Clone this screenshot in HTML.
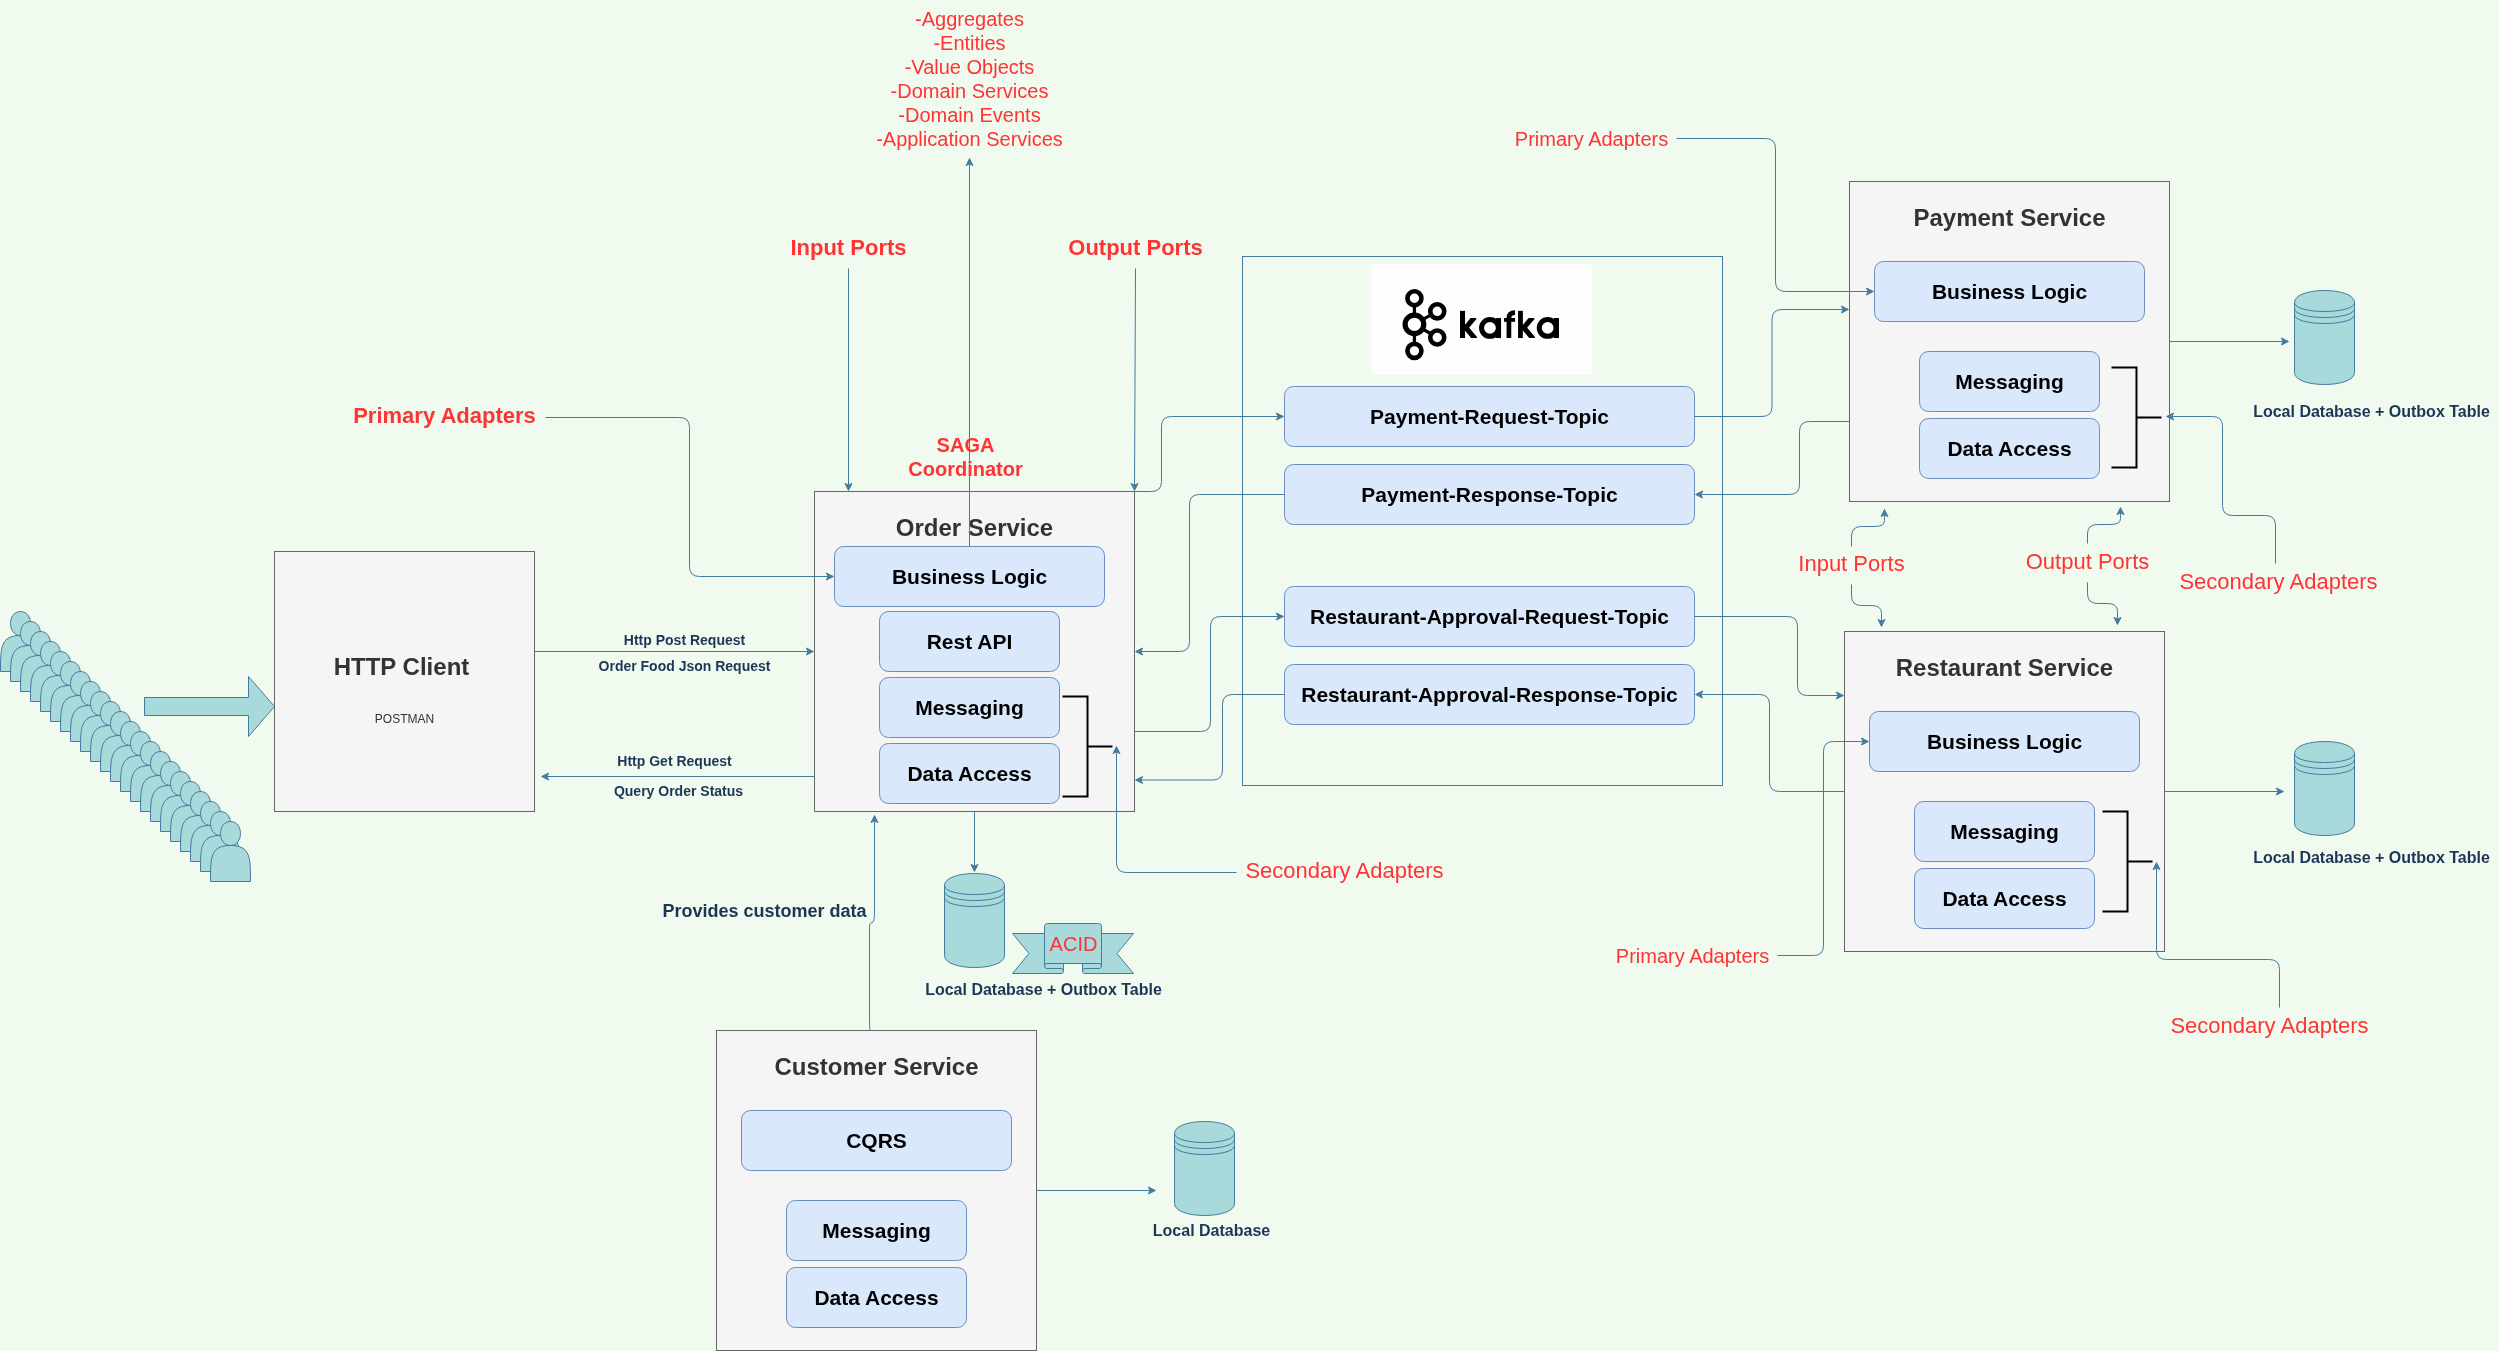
<!DOCTYPE html>
<html><head><meta charset="utf-8"><title>Architecture</title>
<style>
html,body{margin:0;padding:0;background:#F1FAEE;}
body{width:2499px;height:1351px;position:relative;overflow:hidden;font-family:"Liberation Sans",sans-serif;}
svg{position:absolute;left:0;top:0;}
#L{position:absolute;left:0;top:0;width:2499px;height:1351px;opacity:0.999;will-change:opacity;}
.t{position:absolute;transform:translate(-50%,-50%);white-space:nowrap;text-align:center;}
</style></head><body>
<svg width="2499" height="1351" viewBox="0 0 2499 1351">
<rect width="2499" height="1351" fill="#F1FAEE"/>
<g transform="translate(0.5,0.5)">
<path d="M 0 671 C 0 647.0 0 635.0 20.0 635.0 C 6.67 635.0 6.67 611 20.0 611 C 33.33 611 33.33 635.0 20.0 635.0 C 40 635.0 40 647.0 40 671 Z" fill="#A8DADC" stroke="#457B9D" stroke-miterlimit="10"/>
<path d="M 10 681 C 10 657.0 10 645.0 30.0 645.0 C 16.67 645.0 16.67 621 30.0 621 C 43.33 621 43.33 645.0 30.0 645.0 C 50 645.0 50 657.0 50 681 Z" fill="#A8DADC" stroke="#457B9D" stroke-miterlimit="10"/>
<path d="M 20 691 C 20 667.0 20 655.0 40.0 655.0 C 26.67 655.0 26.67 631 40.0 631 C 53.33 631 53.33 655.0 40.0 655.0 C 60 655.0 60 667.0 60 691 Z" fill="#A8DADC" stroke="#457B9D" stroke-miterlimit="10"/>
<path d="M 30 701 C 30 677.0 30 665.0 50.0 665.0 C 36.67 665.0 36.67 641 50.0 641 C 63.33 641 63.33 665.0 50.0 665.0 C 70 665.0 70 677.0 70 701 Z" fill="#A8DADC" stroke="#457B9D" stroke-miterlimit="10"/>
<path d="M 40 711 C 40 687.0 40 675.0 60.0 675.0 C 46.67 675.0 46.67 651 60.0 651 C 73.33 651 73.33 675.0 60.0 675.0 C 80 675.0 80 687.0 80 711 Z" fill="#A8DADC" stroke="#457B9D" stroke-miterlimit="10"/>
<path d="M 50 721 C 50 697.0 50 685.0 70.0 685.0 C 56.67 685.0 56.67 661 70.0 661 C 83.33 661 83.33 685.0 70.0 685.0 C 90 685.0 90 697.0 90 721 Z" fill="#A8DADC" stroke="#457B9D" stroke-miterlimit="10"/>
<path d="M 60 731 C 60 707.0 60 695.0 80.0 695.0 C 66.67 695.0 66.67 671 80.0 671 C 93.33 671 93.33 695.0 80.0 695.0 C 100 695.0 100 707.0 100 731 Z" fill="#A8DADC" stroke="#457B9D" stroke-miterlimit="10"/>
<path d="M 70 741 C 70 717.0 70 705.0 90.0 705.0 C 76.67 705.0 76.67 681 90.0 681 C 103.33 681 103.33 705.0 90.0 705.0 C 110 705.0 110 717.0 110 741 Z" fill="#A8DADC" stroke="#457B9D" stroke-miterlimit="10"/>
<path d="M 80 751 C 80 727.0 80 715.0 100.0 715.0 C 86.67 715.0 86.67 691 100.0 691 C 113.33 691 113.33 715.0 100.0 715.0 C 120 715.0 120 727.0 120 751 Z" fill="#A8DADC" stroke="#457B9D" stroke-miterlimit="10"/>
<path d="M 90 761 C 90 737.0 90 725.0 110.0 725.0 C 96.67 725.0 96.67 701 110.0 701 C 123.33 701 123.33 725.0 110.0 725.0 C 130 725.0 130 737.0 130 761 Z" fill="#A8DADC" stroke="#457B9D" stroke-miterlimit="10"/>
<path d="M 100 771 C 100 747.0 100 735.0 120.0 735.0 C 106.67 735.0 106.67 711 120.0 711 C 133.33 711 133.33 735.0 120.0 735.0 C 140 735.0 140 747.0 140 771 Z" fill="#A8DADC" stroke="#457B9D" stroke-miterlimit="10"/>
<path d="M 110 781 C 110 757.0 110 745.0 130.0 745.0 C 116.67 745.0 116.67 721 130.0 721 C 143.33 721 143.33 745.0 130.0 745.0 C 150 745.0 150 757.0 150 781 Z" fill="#A8DADC" stroke="#457B9D" stroke-miterlimit="10"/>
<path d="M 120 791 C 120 767.0 120 755.0 140.0 755.0 C 126.67 755.0 126.67 731 140.0 731 C 153.33 731 153.33 755.0 140.0 755.0 C 160 755.0 160 767.0 160 791 Z" fill="#A8DADC" stroke="#457B9D" stroke-miterlimit="10"/>
<path d="M 130 801 C 130 777.0 130 765.0 150.0 765.0 C 136.67 765.0 136.67 741 150.0 741 C 163.33 741 163.33 765.0 150.0 765.0 C 170 765.0 170 777.0 170 801 Z" fill="#A8DADC" stroke="#457B9D" stroke-miterlimit="10"/>
<path d="M 140 811 C 140 787.0 140 775.0 160.0 775.0 C 146.67 775.0 146.67 751 160.0 751 C 173.33 751 173.33 775.0 160.0 775.0 C 180 775.0 180 787.0 180 811 Z" fill="#A8DADC" stroke="#457B9D" stroke-miterlimit="10"/>
<path d="M 150 821 C 150 797.0 150 785.0 170.0 785.0 C 156.67 785.0 156.67 761 170.0 761 C 183.33 761 183.33 785.0 170.0 785.0 C 190 785.0 190 797.0 190 821 Z" fill="#A8DADC" stroke="#457B9D" stroke-miterlimit="10"/>
<path d="M 160 831 C 160 807.0 160 795.0 180.0 795.0 C 166.67 795.0 166.67 771 180.0 771 C 193.33 771 193.33 795.0 180.0 795.0 C 200 795.0 200 807.0 200 831 Z" fill="#A8DADC" stroke="#457B9D" stroke-miterlimit="10"/>
<path d="M 170 841 C 170 817.0 170 805.0 190.0 805.0 C 176.67 805.0 176.67 781 190.0 781 C 203.33 781 203.33 805.0 190.0 805.0 C 210 805.0 210 817.0 210 841 Z" fill="#A8DADC" stroke="#457B9D" stroke-miterlimit="10"/>
<path d="M 180 851 C 180 827.0 180 815.0 200.0 815.0 C 186.67 815.0 186.67 791 200.0 791 C 213.33 791 213.33 815.0 200.0 815.0 C 220 815.0 220 827.0 220 851 Z" fill="#A8DADC" stroke="#457B9D" stroke-miterlimit="10"/>
<path d="M 190 861 C 190 837.0 190 825.0 210.0 825.0 C 196.67 825.0 196.67 801 210.0 801 C 223.33 801 223.33 825.0 210.0 825.0 C 230 825.0 230 837.0 230 861 Z" fill="#A8DADC" stroke="#457B9D" stroke-miterlimit="10"/>
<path d="M 200 871 C 200 847.0 200 835.0 220.0 835.0 C 206.67 835.0 206.67 811 220.0 811 C 233.33 811 233.33 835.0 220.0 835.0 C 240 835.0 240 847.0 240 871 Z" fill="#A8DADC" stroke="#457B9D" stroke-miterlimit="10"/>
<path d="M 210 881 C 210 857.0 210 845.0 230.0 845.0 C 216.67 845.0 216.67 821 230.0 821 C 243.33 821 243.33 845.0 230.0 845.0 C 250 845.0 250 857.0 250 881 Z" fill="#A8DADC" stroke="#457B9D" stroke-miterlimit="10"/>
<path d="M 144 697.0 L 248 697.0 L 248 676 L 274 706.0 L 248 736 L 248 715.0 L 144 715.0 Z" fill="#A8DADC" stroke="#457B9D" stroke-miterlimit="10"/>
<rect x="274" y="551" width="260" height="260" rx="0" ry="0" fill="#F5F5F5" stroke="#666666" stroke-width="1"/>
<rect x="814" y="491" width="320" height="320" rx="0" ry="0" fill="#F5F5F5" stroke="#666666" stroke-width="1"/>
<rect x="834" y="546" width="270" height="60" rx="9" ry="9" fill="#DAE8FC" stroke="#6C8EBF" stroke-width="1"/>
<rect x="879" y="611" width="180" height="60" rx="9" ry="9" fill="#DAE8FC" stroke="#6C8EBF" stroke-width="1"/>
<rect x="879" y="677" width="180" height="60" rx="9" ry="9" fill="#DAE8FC" stroke="#6C8EBF" stroke-width="1"/>
<rect x="879" y="743" width="180" height="60" rx="9" ry="9" fill="#DAE8FC" stroke="#6C8EBF" stroke-width="1"/>
<path d="M 1062 696 L 1087.0 696 L 1087.0 796 L 1062 796 M 1087.0 746.0 L 1112 746.0" fill="none" stroke="#000" stroke-width="2" stroke-miterlimit="10"/>
<rect x="1242" y="256" width="480" height="529" rx="0" ry="0" fill="none" stroke="#457B9D" stroke-width="1"/>
<rect x="1371" y="263.5" width="221" height="110.5" fill="#FEFEFE"/>
<rect x="1284" y="386" width="410" height="60" rx="9" ry="9" fill="#DAE8FC" stroke="#6C8EBF" stroke-width="1"/>
<rect x="1284" y="464" width="410" height="60" rx="9" ry="9" fill="#DAE8FC" stroke="#6C8EBF" stroke-width="1"/>
<rect x="1284" y="586" width="410" height="60" rx="9" ry="9" fill="#DAE8FC" stroke="#6C8EBF" stroke-width="1"/>
<rect x="1284" y="664" width="410" height="60" rx="9" ry="9" fill="#DAE8FC" stroke="#6C8EBF" stroke-width="1"/>
<rect x="1849" y="181" width="320" height="320" rx="0" ry="0" fill="#F5F5F5" stroke="#666666" stroke-width="1"/>
<rect x="1874" y="261" width="270" height="60" rx="9" ry="9" fill="#DAE8FC" stroke="#6C8EBF" stroke-width="1"/>
<rect x="1919" y="351" width="180" height="60" rx="9" ry="9" fill="#DAE8FC" stroke="#6C8EBF" stroke-width="1"/>
<rect x="1919" y="418" width="180" height="60" rx="9" ry="9" fill="#DAE8FC" stroke="#6C8EBF" stroke-width="1"/>
<path d="M 2111 367 L 2136.0 367 L 2136.0 467 L 2111 467 M 2136.0 417.0 L 2161 417.0" fill="none" stroke="#000" stroke-width="2" stroke-miterlimit="10"/>
<rect x="1844" y="631" width="320" height="320" rx="0" ry="0" fill="#F5F5F5" stroke="#666666" stroke-width="1"/>
<rect x="1869" y="711" width="270" height="60" rx="9" ry="9" fill="#DAE8FC" stroke="#6C8EBF" stroke-width="1"/>
<rect x="1914" y="801" width="180" height="60" rx="9" ry="9" fill="#DAE8FC" stroke="#6C8EBF" stroke-width="1"/>
<rect x="1914" y="868" width="180" height="60" rx="9" ry="9" fill="#DAE8FC" stroke="#6C8EBF" stroke-width="1"/>
<path d="M 2102 811 L 2127.0 811 L 2127.0 911 L 2102 911 M 2127.0 861.0 L 2152 861.0" fill="none" stroke="#000" stroke-width="2" stroke-miterlimit="10"/>
<rect x="716" y="1030" width="320" height="320" rx="0" ry="0" fill="#F5F5F5" stroke="#666666" stroke-width="1"/>
<rect x="741" y="1110" width="270" height="60" rx="9" ry="9" fill="#DAE8FC" stroke="#6C8EBF" stroke-width="1"/>
<rect x="786" y="1200" width="180" height="60" rx="9" ry="9" fill="#DAE8FC" stroke="#6C8EBF" stroke-width="1"/>
<rect x="786" y="1267" width="180" height="60" rx="9" ry="9" fill="#DAE8FC" stroke="#6C8EBF" stroke-width="1"/>
<path d="M 944 885 C 944 869.00 1004 869.00 1004 885 L 1004 955 C 1004 971.00 944 971.00 944 955 Z" fill="#A8DADC" stroke="#457B9D" stroke-miterlimit="10"/>
<path d="M 944 885.0 C 944 897.0 1004 897.0 1004 885.0" fill="none" stroke="#457B9D" stroke-miterlimit="10"/>
<path d="M 944 891.0 C 944 903.0 1004 903.0 1004 891.0" fill="none" stroke="#457B9D" stroke-miterlimit="10"/>
<path d="M 944 897.0 C 944 909.0 1004 909.0 1004 897.0" fill="none" stroke="#457B9D" stroke-miterlimit="10"/>
<path d="M 2294 302 C 2294 286.00 2354 286.00 2354 302 L 2354 372 C 2354 388.00 2294 388.00 2294 372 Z" fill="#A8DADC" stroke="#457B9D" stroke-miterlimit="10"/>
<path d="M 2294 302.0 C 2294 314.0 2354 314.0 2354 302.0" fill="none" stroke="#457B9D" stroke-miterlimit="10"/>
<path d="M 2294 308.0 C 2294 320.0 2354 320.0 2354 308.0" fill="none" stroke="#457B9D" stroke-miterlimit="10"/>
<path d="M 2294 314.0 C 2294 326.0 2354 326.0 2354 314.0" fill="none" stroke="#457B9D" stroke-miterlimit="10"/>
<path d="M 2294 753 C 2294 737.00 2354 737.00 2354 753 L 2354 823 C 2354 839.00 2294 839.00 2294 823 Z" fill="#A8DADC" stroke="#457B9D" stroke-miterlimit="10"/>
<path d="M 2294 753.0 C 2294 765.0 2354 765.0 2354 753.0" fill="none" stroke="#457B9D" stroke-miterlimit="10"/>
<path d="M 2294 759.0 C 2294 771.0 2354 771.0 2354 759.0" fill="none" stroke="#457B9D" stroke-miterlimit="10"/>
<path d="M 2294 765.0 C 2294 777.0 2354 777.0 2354 765.0" fill="none" stroke="#457B9D" stroke-miterlimit="10"/>
<path d="M 1174 1133 C 1174 1117.00 1234 1117.00 1234 1133 L 1234 1203 C 1234 1219.00 1174 1219.00 1174 1203 Z" fill="#A8DADC" stroke="#457B9D" stroke-miterlimit="10"/>
<path d="M 1174 1133.0 C 1174 1145.0 1234 1145.0 1234 1133.0" fill="none" stroke="#457B9D" stroke-miterlimit="10"/>
<path d="M 1174 1139.0 C 1174 1151.0 1234 1151.0 1234 1139.0" fill="none" stroke="#457B9D" stroke-miterlimit="10"/>
<path d="M 1174 1145.0 C 1174 1157.0 1234 1157.0 1234 1145.0" fill="none" stroke="#457B9D" stroke-miterlimit="10"/>
<path d="M 1012 933 L 1044 933 L 1044 963 L 1063 963 L 1063 970.5 Q 1063 973 1060.5 973 L 1012 973 L 1028.5 953 Z" fill="#A8DADC" stroke="#457B9D" stroke-miterlimit="10"/>
<path d="M 1133 933 L 1101 933 L 1101 963 L 1082 963 L 1082 970.5 Q 1082 973 1084.5 973 L 1133 973 L 1116.5 953 Z" fill="#A8DADC" stroke="#457B9D" stroke-miterlimit="10"/>
<path d="M 1044 965.5 Q 1044 968 1046.5 968 L 1060.5 968 Q 1063 968 1063 970.5 M 1101 965.5 Q 1101 968 1098.5 968 L 1084.5 968 Q 1082 968 1082 970.5" fill="none" stroke="#457B9D" stroke-miterlimit="10"/>
<path d="M 1044 965.5 L 1044 926 Q 1044 923 1047 923 L 1098 923 Q 1101 923 1101 926 L 1101 965.5 Q 1101 963 1098.5 963 L 1046.5 963 Q 1044 963 1044 965.5 Z" fill="#A8DADC" stroke="#457B9D" stroke-miterlimit="10"/>
<path d="M 848 268 L 848.00 484.63" fill="none" stroke="#457B9D" stroke-miterlimit="10"/>
<path d="M 848.00 489.88 L 844.50 482.88 L 848.00 484.63 L 851.50 482.88 Z" fill="#457B9D" stroke="#457B9D" stroke-miterlimit="10"/>
<path d="M 1135 268 L 1134.03 484.63" fill="none" stroke="#457B9D" stroke-miterlimit="10"/>
<path d="M 1134.01 489.88 L 1130.54 482.87 L 1134.03 484.63 L 1137.54 482.90 Z" fill="#457B9D" stroke="#457B9D" stroke-miterlimit="10"/>
<path d="M 545 417 L 679.00 417.00 Q 689 417 689.00 427.00 L 689.00 566.00 Q 689 576 699.00 576.00 L 827.63 576.00" fill="none" stroke="#457B9D" stroke-miterlimit="10"/>
<path d="M 832.88 576.00 L 825.88 579.50 L 827.63 576.00 L 825.88 572.50 Z" fill="#457B9D" stroke="#457B9D" stroke-miterlimit="10"/>
<path d="M 534 651 L 807.63 651.00" fill="none" stroke="#457B9D" stroke-miterlimit="10"/>
<path d="M 812.88 651.00 L 805.88 654.50 L 807.63 651.00 L 805.88 647.50 Z" fill="#457B9D" stroke="#457B9D" stroke-miterlimit="10"/>
<path d="M 814 776 L 546.37 776.00" fill="none" stroke="#457B9D" stroke-miterlimit="10"/>
<path d="M 541.12 776.00 L 548.12 772.50 L 546.37 776.00 L 548.12 779.50 Z" fill="#457B9D" stroke="#457B9D" stroke-miterlimit="10"/>
<path d="M 1134 491 L 1151.00 491.00 Q 1161 491 1161.00 481.00 L 1161.00 426.00 Q 1161 416 1171.00 416.00 L 1277.63 416.00" fill="none" stroke="#457B9D" stroke-miterlimit="10"/>
<path d="M 1282.88 416.00 L 1275.88 419.50 L 1277.63 416.00 L 1275.88 412.50 Z" fill="#457B9D" stroke="#457B9D" stroke-miterlimit="10"/>
<path d="M 1284 494 L 1199.00 494.00 Q 1189 494 1189.00 504.00 L 1189.00 641.00 Q 1189 651 1179.00 651.00 L 1140.37 651.00" fill="none" stroke="#457B9D" stroke-miterlimit="10"/>
<path d="M 1135.12 651.00 L 1142.12 647.50 L 1140.37 651.00 L 1142.12 654.50 Z" fill="#457B9D" stroke="#457B9D" stroke-miterlimit="10"/>
<path d="M 1134 731 L 1200.00 731.00 Q 1210 731 1210.00 721.00 L 1210.00 626.00 Q 1210 616 1220.00 616.00 L 1277.63 616.00" fill="none" stroke="#457B9D" stroke-miterlimit="10"/>
<path d="M 1282.88 616.00 L 1275.88 619.50 L 1277.63 616.00 L 1275.88 612.50 Z" fill="#457B9D" stroke="#457B9D" stroke-miterlimit="10"/>
<path d="M 1284 694 L 1232.00 694.00 Q 1222 694 1222.00 704.00 L 1222.00 769.50 Q 1222 779.5 1212.00 779.50 L 1140.37 779.50" fill="none" stroke="#457B9D" stroke-miterlimit="10"/>
<path d="M 1135.12 779.50 L 1142.12 776.00 L 1140.37 779.50 L 1142.12 783.00 Z" fill="#457B9D" stroke="#457B9D" stroke-miterlimit="10"/>
<path d="M 974 811 L 974.00 865.63" fill="none" stroke="#457B9D" stroke-miterlimit="10"/>
<path d="M 974.00 870.88 L 970.50 863.88 L 974.00 865.63 L 977.50 863.88 Z" fill="#457B9D" stroke="#457B9D" stroke-miterlimit="10"/>
<path d="M 1236 872 L 1126.00 872.00 Q 1116 872 1116.00 862.00 L 1116.00 751.37" fill="none" stroke="#457B9D" stroke-miterlimit="10"/>
<path d="M 1116.00 746.12 L 1119.50 753.12 L 1116.00 751.37 L 1112.50 753.12 Z" fill="#457B9D" stroke="#457B9D" stroke-miterlimit="10"/>
<path d="M 874 900 L 874.00 820.37" fill="none" stroke="#457B9D" stroke-miterlimit="10"/>
<path d="M 874.00 815.12 L 877.50 822.12 L 874.00 820.37 L 870.50 822.12 Z" fill="#457B9D" stroke="#457B9D" stroke-miterlimit="10"/>
<path d="M 871 1030 L 870 1030 Q 869 1030 869 1020 L 869 926.5 Q 869 922 871.5 922 Q 874 922 874 912 L 874 899" fill="none" stroke="#457B9D" stroke-miterlimit="10"/>
<path d="M 1036 1190 L 1149.63 1190.00" fill="none" stroke="#457B9D" stroke-miterlimit="10"/>
<path d="M 1154.88 1190.00 L 1147.88 1193.50 L 1149.63 1190.00 L 1147.88 1186.50 Z" fill="#457B9D" stroke="#457B9D" stroke-miterlimit="10"/>
<path d="M 1694 416 L 1761.50 416.00 Q 1771.5 416 1771.50 406.00 L 1771.50 319.00 Q 1771.5 309 1781.50 309.00 L 1842.63 309.00" fill="none" stroke="#457B9D" stroke-miterlimit="10"/>
<path d="M 1847.88 309.00 L 1840.88 312.50 L 1842.63 309.00 L 1840.88 305.50 Z" fill="#457B9D" stroke="#457B9D" stroke-miterlimit="10"/>
<path d="M 1849 421 L 1809.00 421.00 Q 1799 421 1799.00 431.00 L 1799.00 484.00 Q 1799 494 1789.00 494.00 L 1700.37 494.00" fill="none" stroke="#457B9D" stroke-miterlimit="10"/>
<path d="M 1695.12 494.00 L 1702.12 490.50 L 1700.37 494.00 L 1702.12 497.50 Z" fill="#457B9D" stroke="#457B9D" stroke-miterlimit="10"/>
<path d="M 1676 138 L 1765.00 138.00 Q 1775 138 1775.00 148.00 L 1775.00 281.00 Q 1775 291 1785.00 291.00 L 1867.63 291.00" fill="none" stroke="#457B9D" stroke-miterlimit="10"/>
<path d="M 1872.88 291.00 L 1865.88 294.50 L 1867.63 291.00 L 1865.88 287.50 Z" fill="#457B9D" stroke="#457B9D" stroke-miterlimit="10"/>
<path d="M 2169 341 L 2282.63 341.00" fill="none" stroke="#457B9D" stroke-miterlimit="10"/>
<path d="M 2287.88 341.00 L 2280.88 344.50 L 2282.63 341.00 L 2280.88 337.50 Z" fill="#457B9D" stroke="#457B9D" stroke-miterlimit="10"/>
<path d="M 2275 563 L 2275.00 525.00 Q 2275 515 2265.00 515.00 L 2232.00 515.00 Q 2222 515 2222.00 505.00 L 2222.00 426.00 Q 2222 416 2212.00 416.00 L 2171.37 416.00" fill="none" stroke="#457B9D" stroke-miterlimit="10"/>
<path d="M 2166.12 416.00 L 2173.12 412.50 L 2171.37 416.00 L 2173.12 419.50 Z" fill="#457B9D" stroke="#457B9D" stroke-miterlimit="10"/>
<path d="M 1851 546 L 1851.00 536.00 Q 1851 526 1861.00 526.00 L 1874.00 526.00 Q 1884 526 1884.00 520.18 L 1884.00 514.37" fill="none" stroke="#457B9D" stroke-miterlimit="10"/>
<path d="M 1884.00 509.12 L 1887.50 516.12 L 1884.00 514.37 L 1880.50 516.12 Z" fill="#457B9D" stroke="#457B9D" stroke-miterlimit="10"/>
<path d="M 1851 584 L 1851.00 595.00 Q 1851 605 1861.00 605.00 L 1871.00 605.00 Q 1881 605 1881.00 612.82 L 1881.00 620.63" fill="none" stroke="#457B9D" stroke-miterlimit="10"/>
<path d="M 1881.00 625.88 L 1877.50 618.88 L 1881.00 620.63 L 1884.50 618.88 Z" fill="#457B9D" stroke="#457B9D" stroke-miterlimit="10"/>
<path d="M 2087 543 L 2087.00 533.50 Q 2087 524 2097.00 524.00 L 2110.00 524.00 Q 2120 524 2120.00 518.18 L 2120.00 512.37" fill="none" stroke="#457B9D" stroke-miterlimit="10"/>
<path d="M 2120.00 507.12 L 2123.50 514.12 L 2120.00 512.37 L 2116.50 514.12 Z" fill="#457B9D" stroke="#457B9D" stroke-miterlimit="10"/>
<path d="M 2087 582 L 2087.00 593.00 Q 2087 603 2097.00 603.00 L 2107.00 603.00 Q 2117 603 2117.00 610.82 L 2117.00 618.63" fill="none" stroke="#457B9D" stroke-miterlimit="10"/>
<path d="M 2117.00 623.88 L 2113.50 616.88 L 2117.00 618.63 L 2120.50 616.88 Z" fill="#457B9D" stroke="#457B9D" stroke-miterlimit="10"/>
<path d="M 1694 616 L 1787.00 616.00 Q 1797 616 1797.00 626.00 L 1797.00 685.00 Q 1797 695 1807.00 695.00 L 1837.63 695.00" fill="none" stroke="#457B9D" stroke-miterlimit="10"/>
<path d="M 1842.88 695.00 L 1835.88 698.50 L 1837.63 695.00 L 1835.88 691.50 Z" fill="#457B9D" stroke="#457B9D" stroke-miterlimit="10"/>
<path d="M 1844 791 L 1779.00 791.00 Q 1769 791 1769.00 781.00 L 1769.00 704.00 Q 1769 694 1759.00 694.00 L 1700.37 694.00" fill="none" stroke="#457B9D" stroke-miterlimit="10"/>
<path d="M 1695.12 694.00 L 1702.12 690.50 L 1700.37 694.00 L 1702.12 697.50 Z" fill="#457B9D" stroke="#457B9D" stroke-miterlimit="10"/>
<path d="M 1777 955 L 1813.00 955.00 Q 1823 955 1823.00 945.00 L 1823.00 751.00 Q 1823 741 1833.00 741.00 L 1862.63 741.00" fill="none" stroke="#457B9D" stroke-miterlimit="10"/>
<path d="M 1867.88 741.00 L 1860.88 744.50 L 1862.63 741.00 L 1860.88 737.50 Z" fill="#457B9D" stroke="#457B9D" stroke-miterlimit="10"/>
<path d="M 2164 791 L 2277.63 791.00" fill="none" stroke="#457B9D" stroke-miterlimit="10"/>
<path d="M 2282.88 791.00 L 2275.88 794.50 L 2277.63 791.00 L 2275.88 787.50 Z" fill="#457B9D" stroke="#457B9D" stroke-miterlimit="10"/>
<path d="M 2279 1007 L 2279.00 969.00 Q 2279 959 2269.00 959.00 L 2166.00 959.00 Q 2156 959 2156.00 949.00 L 2156.00 867.37" fill="none" stroke="#457B9D" stroke-miterlimit="10"/>
<path d="M 2156.00 862.12 L 2159.50 869.12 L 2156.00 867.37 L 2152.50 869.12 Z" fill="#457B9D" stroke="#457B9D" stroke-miterlimit="10"/>
<defs><clipPath id="kc"><rect x="900" y="630" width="400" height="200"/></clipPath></defs><g transform="translate(1359.5,254.5) scale(0.10004)" fill="none" stroke="#000">
<circle cx="544" cy="432" r="70" stroke-width="46"/>
<circle cx="544" cy="693" r="93" stroke-width="52"/>
<circle cx="544" cy="958" r="70" stroke-width="46"/>
<circle cx="772" cy="563" r="70" stroke-width="46"/>
<circle cx="772" cy="825" r="70" stroke-width="46"/>
<path d="M544 500 V602 M544 784 V890 M622 648 L714 596 M622 738 L714 790" stroke-width="33"/>
<g id="kk" stroke="none" fill="#000">
<rect x="1000" y="558" width="50" height="272"/>
<path d="M1146.5 620 L1058 727 L1153.5 840" fill="none" stroke="#000" stroke-width="51" stroke-linejoin="miter" clip-path="url(#kc)"/>
</g>
<g id="ka">
<circle cx="1299" cy="729" r="84" stroke-width="50"/>
<rect x="1360" y="630" width="50" height="200" fill="#000" stroke="none"/>
</g>
<path d="M1488.5 830 V632 C1488.5 596 1508 577 1550 577" stroke-width="47"/>
<rect x="1440" y="630" width="110" height="38" fill="#000" stroke="none"/>
<g transform="translate(580,0)" stroke="none" fill="#000">
<rect x="1000" y="558" width="48" height="272"/>
<path d="M1146.5 620 L1058 727 L1153.5 840" fill="none" stroke="#000" stroke-width="51" stroke-linejoin="miter" clip-path="url(#kc)"/>
</g>
<g transform="translate(577,0)">
<circle cx="1299" cy="729" r="84" stroke-width="50"/>
<rect x="1362" y="630" width="50" height="200" fill="#000" stroke="none"/>
</g>
</g>
</g>
</svg>
<div id="L">
<div class="t" style="left:401.5px;top:666.5px;font-size:24px;color:#333;font-weight:700;line-height:1.2">HTTP Client</div>
<div class="t" style="left:404.5px;top:718.5px;font-size:12px;color:#333;font-weight:400;line-height:1.2">POSTMAN</div>
<div class="t" style="left:974.5px;top:527.5px;font-size:24px;color:#333;font-weight:700;line-height:1.2">Order Service</div>
<div class="t" style="left:969.5px;top:576.5px;font-size:21px;color:#000;font-weight:700;line-height:1.2">Business Logic</div>
<div class="t" style="left:969.5px;top:641.5px;font-size:21px;color:#000;font-weight:700;line-height:1.2">Rest API</div>
<div class="t" style="left:969.5px;top:707.5px;font-size:21px;color:#000;font-weight:700;line-height:1.2">Messaging</div>
<div class="t" style="left:969.5px;top:773.5px;font-size:21px;color:#000;font-weight:700;line-height:1.2">Data Access</div>
<div class="t" style="left:1489.5px;top:416.5px;font-size:21px;color:#000;font-weight:700;line-height:1.2">Payment-Request-Topic</div>
<div class="t" style="left:1489.5px;top:494.5px;font-size:21px;color:#000;font-weight:700;line-height:1.2">Payment-Response-Topic</div>
<div class="t" style="left:1489.5px;top:616.5px;font-size:21px;color:#000;font-weight:700;line-height:1.2">Restaurant-Approval-Request-Topic</div>
<div class="t" style="left:1489.5px;top:694.5px;font-size:21px;color:#000;font-weight:700;line-height:1.2">Restaurant-Approval-Response-Topic</div>
<div class="t" style="left:2009.5px;top:217.5px;font-size:24px;color:#333;font-weight:700;line-height:1.2">Payment Service</div>
<div class="t" style="left:2009.5px;top:291.5px;font-size:21px;color:#000;font-weight:700;line-height:1.2">Business Logic</div>
<div class="t" style="left:2009.5px;top:381.5px;font-size:21px;color:#000;font-weight:700;line-height:1.2">Messaging</div>
<div class="t" style="left:2009.5px;top:448.5px;font-size:21px;color:#000;font-weight:700;line-height:1.2">Data Access</div>
<div class="t" style="left:2004.5px;top:667.5px;font-size:24px;color:#333;font-weight:700;line-height:1.2">Restaurant Service</div>
<div class="t" style="left:2004.5px;top:741.5px;font-size:21px;color:#000;font-weight:700;line-height:1.2">Business Logic</div>
<div class="t" style="left:2004.5px;top:831.5px;font-size:21px;color:#000;font-weight:700;line-height:1.2">Messaging</div>
<div class="t" style="left:2004.5px;top:898.5px;font-size:21px;color:#000;font-weight:700;line-height:1.2">Data Access</div>
<div class="t" style="left:876.5px;top:1066.5px;font-size:24px;color:#333;font-weight:700;line-height:1.2">Customer Service</div>
<div class="t" style="left:876.5px;top:1140.5px;font-size:21px;color:#000;font-weight:700;line-height:1.2">CQRS</div>
<div class="t" style="left:876.5px;top:1230.5px;font-size:21px;color:#000;font-weight:700;line-height:1.2">Messaging</div>
<div class="t" style="left:876.5px;top:1297.5px;font-size:21px;color:#000;font-weight:700;line-height:1.2">Data Access</div>
<div class="t" style="left:1043.5px;top:989.5px;font-size:16px;color:#1D3557;font-weight:700;line-height:1.2">Local Database + Outbox Table</div>
<div class="t" style="left:2371.5px;top:411.5px;font-size:16px;color:#1D3557;font-weight:700;line-height:1.2">Local Database + Outbox Table</div>
<div class="t" style="left:2371.5px;top:857.5px;font-size:16px;color:#1D3557;font-weight:700;line-height:1.2">Local Database + Outbox Table</div>
<div class="t" style="left:1211.5px;top:1230.5px;font-size:16px;color:#1D3557;font-weight:700;line-height:1.2">Local Database</div>
<div class="t" style="left:1073.5px;top:943.5px;font-size:20px;color:#FF3333;font-weight:400;line-height:1.2">ACID</div>
<div class="t" style="left:969.5px;top:78.5px;font-size:20px;color:#FF3333;font-weight:400;line-height:1.2">-Aggregates<br>-Entities<br>-Value Objects<br>-Domain Services<br>-Domain Events<br>-Application Services</div>
<div class="t" style="left:848.5px;top:247.75px;font-size:22px;color:#FF3333;font-weight:700;line-height:1.2">Input Ports</div>
<div class="t" style="left:1135.5px;top:247.75px;font-size:22px;color:#FF3333;font-weight:700;line-height:1.2">Output Ports</div>
<div class="t" style="left:444.5px;top:416px;font-size:22px;color:#FF3333;font-weight:700;line-height:1.2">Primary Adapters</div>
<div class="t" style="left:965.5px;top:457px;font-size:20px;color:#FF3333;font-weight:700;line-height:1.2">SAGA<br>Coordinator</div>
<div class="t" style="left:684.5px;top:639.5px;font-size:14px;color:#1D3557;font-weight:700;line-height:1.2">Http Post Request</div>
<div class="t" style="left:684.5px;top:665.5px;font-size:14px;color:#1D3557;font-weight:700;line-height:1.2">Order Food Json Request</div>
<div class="t" style="left:674.5px;top:760.5px;font-size:14px;color:#1D3557;font-weight:700;line-height:1.2">Http Get Request</div>
<div class="t" style="left:678.5px;top:790.5px;font-size:14px;color:#1D3557;font-weight:700;line-height:1.2">Query Order Status</div>
<div class="t" style="left:764.5px;top:911.5px;font-size:18px;color:#1D3557;font-weight:700;line-height:1.2">Provides customer data</div>
<div class="t" style="left:1344.5px;top:871px;font-size:22px;color:#FF3333;font-weight:400;line-height:1.2">Secondary Adapters</div>
<div class="t" style="left:1591.5px;top:138.5px;font-size:20px;color:#FF3333;font-weight:400;line-height:1.2">Primary Adapters</div>
<div class="t" style="left:1851.5px;top:564px;font-size:22px;color:#FF3333;font-weight:400;line-height:1.2">Input Ports</div>
<div class="t" style="left:2087.5px;top:562px;font-size:22px;color:#FF3333;font-weight:400;line-height:1.2">Output Ports</div>
<div class="t" style="left:2278.5px;top:581.5px;font-size:22px;color:#FF3333;font-weight:400;line-height:1.2">Secondary Adapters</div>
<div class="t" style="left:1692.5px;top:955.5px;font-size:20px;color:#FF3333;font-weight:400;line-height:1.2">Primary Adapters</div>
<div class="t" style="left:2269.5px;top:1025.5px;font-size:22px;color:#FF3333;font-weight:400;line-height:1.2">Secondary Adapters</div>
</div>
<svg width="2499" height="1351" viewBox="0 0 2499 1351" style="pointer-events:none"><g transform="translate(0.5,0.5)">
<path d="M 969 546 L 969.00 163.37" fill="none" stroke="#457B9D" stroke-miterlimit="10"/>
<path d="M 969.00 158.12 L 972.50 165.12 L 969.00 163.37 L 965.50 165.12 Z" fill="#457B9D" stroke="#457B9D" stroke-miterlimit="10"/>
</g></svg>
</body></html>
